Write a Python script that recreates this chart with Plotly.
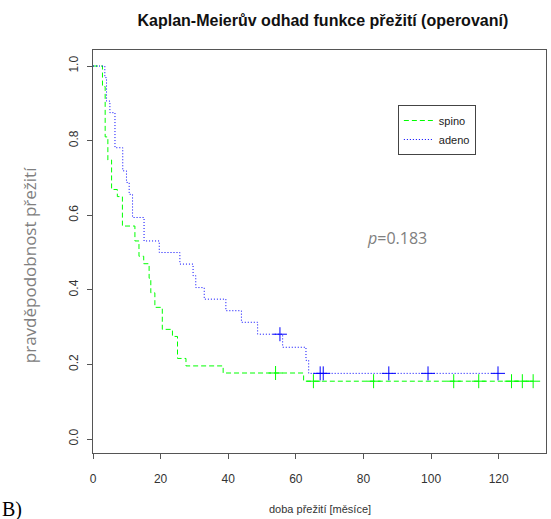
import numpy as np
import plotly.graph_objects as go

# Kaplan-Meier step estimates (event times in months, survival after each step)
spino_times = [2.8, 3.6, 4.4, 5.5, 7.2, 8.7, 12.4, 13.6, 15.0, 16.6, 17.1, 18.3,
               20.5, 23.5, 25.0, 27.5, 38.5, 62.3]
spino_surv = [0.945, 0.810, 0.748, 0.669, 0.650, 0.571, 0.531, 0.490, 0.470, 0.431,
              0.392, 0.353, 0.294, 0.275, 0.216, 0.196, 0.177, 0.155]
spino_censored = [54.0, 65.2, 83.0, 106.7, 114.1, 123.8, 127.0, 130.2]

adeno_times = [3.5, 4.0, 5.0, 6.5, 8.8, 9.9, 10.7, 11.7, 15.1, 19.6, 25.7, 29.6,
               30.4, 32.9, 39.3, 43.9, 48.7, 56.1, 63.0, 63.8]
adeno_surv = [0.969, 0.906, 0.875, 0.781, 0.719, 0.688, 0.656, 0.594, 0.531, 0.500,
              0.469, 0.438, 0.406, 0.375, 0.344, 0.313, 0.281, 0.246, 0.211, 0.176]
adeno_censored = [55.3, 67.2, 68.1, 87.5, 99.1, 119.8]

x_ticks = [0, 20, 40, 60, 80, 100, 120]
y_ticks = [0.0, 0.2, 0.4, 0.6, 0.8, 1.0]
y_tick_labels = ["0.0", "0.2", "0.4", "0.6", "0.8", "1.0"]

p_value = 0.183

GREEN = "#00ff00"
BLUE = "#0000ff"


def km_path(times, surv, end):
    x = [0.0] + list(times) + [end]
    y = [1.0] + list(surv) + [surv[-1]]
    return x, y


def surv_at(times, surv, points):
    idx = np.searchsorted(np.asarray(times), np.asarray(points), side="right")
    return [1.0 if i == 0 else surv[i - 1] for i in idx]


fig = go.Figure()

series = [
    ("spino", spino_times, spino_surv, spino_censored, GREEN, "5px,3px"),
    ("adeno", adeno_times, adeno_surv, adeno_censored, BLUE, "1px,2px"),
]

for name, times, surv, cens, color, dash in series:
    x, y = km_path(times, surv, max(cens))
    fig.add_trace(go.Scatter(
        x=x, y=y, mode="lines", name=name,
        line=dict(color=color, width=1, dash=dash, shape="hv"),
        hoverinfo="skip",
    ))

for name, times, surv, cens, color, dash in series:
    fig.add_trace(go.Scatter(
        x=cens, y=surv_at(times, surv, cens), mode="markers", showlegend=False,
        marker=dict(symbol="cross-thin", size=10, color=color,
                    line=dict(color=color, width=1)),
        hoverinfo="skip",
    ))

axis_common = dict(
    showline=True, linecolor="#555555", linewidth=1, mirror=True,
    ticks="outside", ticklen=5, tickcolor="#555555", tickwidth=1,
    showgrid=False, zeroline=False,
    tickfont=dict(family="Liberation Sans, Arial, sans-serif", size=12, color="#333333"),
)

fig.update_layout(
    width=551, height=519,
    margin=dict(l=93, r=5, t=50, b=66),
    paper_bgcolor="white", plot_bgcolor="white",
    title=dict(
        text="<b>Kaplan-Meierův odhad funkce přežití (operovaní)</b>",
        x=0.586, xanchor="center", y=0.96, yanchor="middle",
        font=dict(family="Liberation Sans, Arial, sans-serif", size=16, color="#111111"),
    ),
    xaxis=dict(range=[0, 134], tickvals=x_ticks, ticklabelstandoff=10, **axis_common),
    yaxis=dict(range=[-0.0375, 1.043], tickvals=y_ticks, ticktext=y_tick_labels,
               tickangle=-90, ticklabelstandoff=4, **axis_common),
    legend=dict(
        x=0.673, y=0.8635, xanchor="left", yanchor="top",
        bordercolor="#444444", borderwidth=1, bgcolor="white",
        font=dict(family="Liberation Sans, Arial, sans-serif", size=11, color="#222222"),
        itemwidth=30, tracegroupgap=0,
    ),
    showlegend=True,
)

fig.add_annotation(
    text="<i>p</i>=" + f"{p_value:.3f}",
    xref="paper", yref="paper", x=0.671, y=0.5335,
    xanchor="center", yanchor="middle", showarrow=False,
    font=dict(family="Open Sans, sans-serif", size=16, color="#808080"),
)
fig.add_annotation(
    text="pravděpodobnost přežití",
    xref="paper", yref="paper", x=-0.14, y=0.465,
    xanchor="center", yanchor="middle", textangle=-90, showarrow=False,
    font=dict(family="Open Sans, sans-serif", size=17, color="#808080"),
)
fig.add_annotation(
    text="doba přežití [měsíce]",
    xref="paper", yref="paper", x=0.5, y=-0.14,
    xanchor="center", yanchor="middle", showarrow=False,
    font=dict(family="Liberation Sans, Arial, sans-serif", size=11, color="#333333"),
)
fig.add_annotation(
    text="B)",
    xref="paper", yref="paper", x=-0.205, y=0.0, yshift=-43,
    xanchor="left", yanchor="top", showarrow=False,
    font=dict(family="Liberation Serif, Times New Roman, serif", size=20, color="#000000"),
)

fig.write_html("out.html")
